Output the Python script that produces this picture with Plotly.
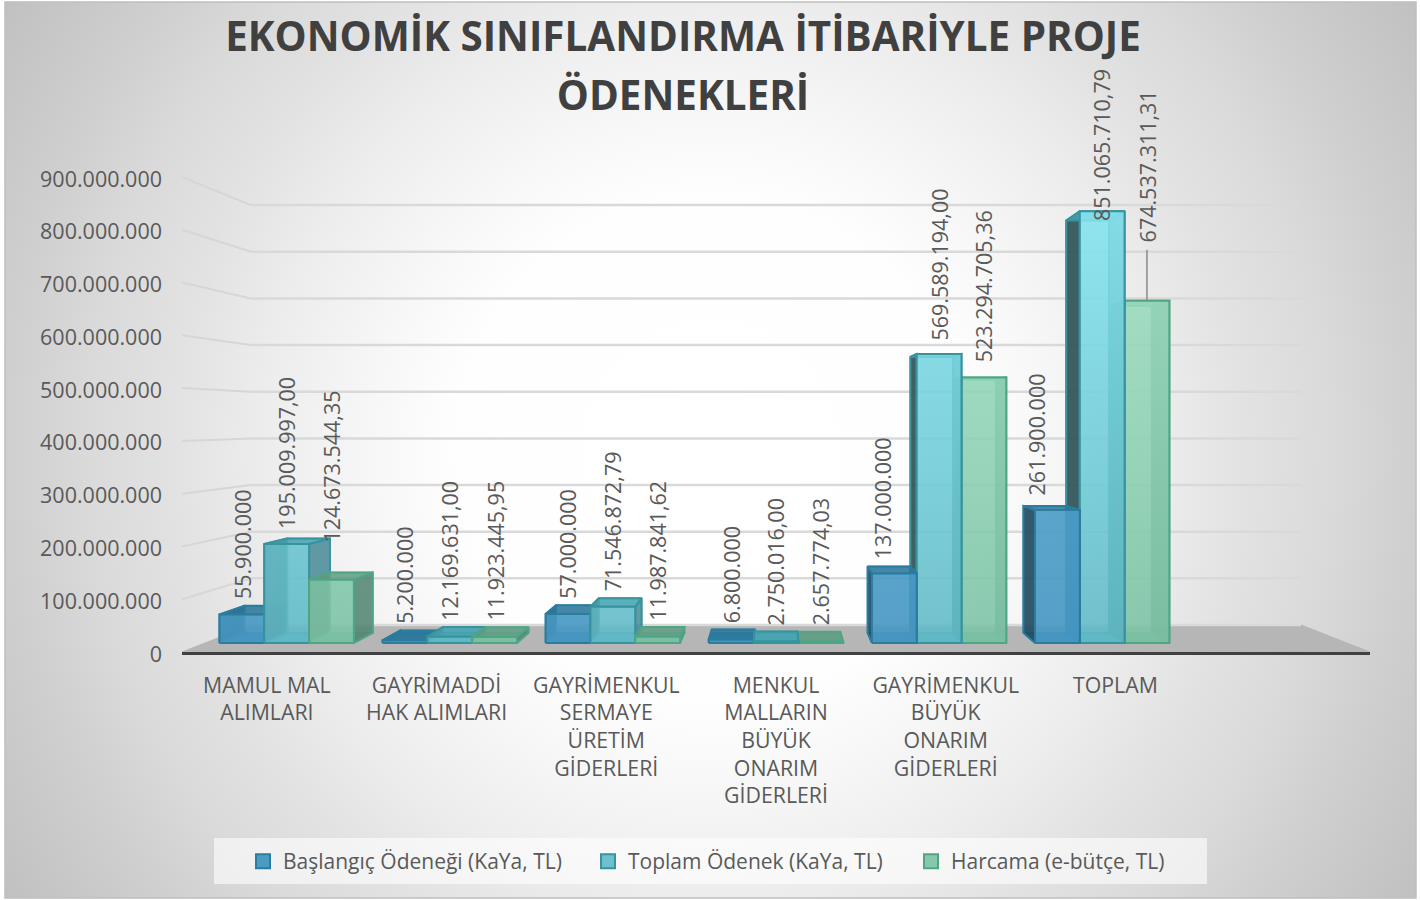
import base64
import plotly.graph_objs as go

categories = ["MAMUL MAL<br>ALIMLARI", "GAYRİMADDİ<br>HAK ALIMLARI", "GAYRİMENKUL<br>SERMAYE<br>ÜRETİM<br>GİDERLERİ",
              "MENKUL<br>MALLARIN<br>BÜYÜK<br>ONARIM<br>GİDERLERİ", "GAYRİMENKUL<br>BÜYÜK<br>ONARIM<br>GİDERLERİ", "TOPLAM"]
series_names = ["Başlangıç Ödeneği (KaYa, TL)", "Toplam Ödenek (KaYa, TL)", "Harcama (e-bütçe, TL)"]

baslangic = [55900000, 5200000, 57000000, 6800000, 137000000, 261900000]
toplam = [195009997.00, 12169631.00, 71546872.79, 2750016.00, 569589194.00, 851065710.79]
harcama = [124673544.35, 11923445.95, 11987841.62, 2657774.03, 523294705.36, 674537311.31]
values = [baslangic, toplam, harcama]

baslangic_labels = ["55.900.000", "5.200.000", "57.000.000", "6.800.000", "137.000.000", "261.900.000"]
toplam_labels = ["195.009.997,00", "12.169.631,00", "71.546.872,79", "2.750.016,00", "569.589.194,00", "851.065.710,79"]
harcama_labels = ["124.673.544,35", "11.923.445,95", "11.987.841,62", "2.657.774,03", "523.294.705,36", "674.537.311,31"]
labels = [baslangic_labels, toplam_labels, harcama_labels]

# Perspective of the Excel 3D chart: everything shrinks towards a vanishing point
N_SLOTS = 7
VP_X = 3.5
VP_V = 441e6
WALL = 0.884
BAR_FRONT = 0.961
BAR_BACK = 0.918
BAR_W = 0.2746
GROUP_PAD = 0.088
AXIS_MAX = 900e6


def proj(x, v, s):
	return VP_X + (x - VP_X) * s, VP_V + (v - VP_V) * s


def face(points):
	xs, ys = [], []
	for (x, v, s) in points:
		px, py = proj(x, v, s)
		xs.append(px)
		ys.append(py)
	xs.append(xs[0])
	ys.append(ys[0])
	return xs, ys


fill_colors = [
	dict(front=[[0, "rgba(70,152,196,0.88)"], [1, "rgba(90,172,214,0.88)"]],
		top="rgba(45,120,155,0.85)", right="rgba(40,125,170,0.80)", left="rgba(35,75,95,0.90)", line="#2b7c9f"),
	dict(front=[[0, "rgba(96,186,198,0.85)"], [1, "rgba(138,234,244,0.85)"]],
		top="rgba(70,165,178,0.85)", right="rgba(70,135,148,0.80)", left="rgba(50,85,90,0.92)", line="#37939f"),
	dict(front=[[0, "rgba(124,196,166,0.85)"], [1, "rgba(166,230,200,0.85)"]],
		top="rgba(100,160,135,0.85)", right="rgba(85,135,115,0.85)", left="rgba(70,105,90,0.90)", line="#50a585"),
]
legend_colors = ["#4a9cc4", "#6fc0ca", "#86c8aa"]

fig = go.Figure()


def add_poly(xs, ys, fillcolor, line_color, width=2, gradient=None):
	t = go.Scatter(x=xs, y=ys, mode="lines", fill="toself", fillcolor=fillcolor,
		line=dict(color=line_color, width=width), hoverinfo="skip", showlegend=False, cliponaxis=False)
	if gradient:
		t.fillgradient = dict(type="vertical", colorscale=gradient, start=0, stop=AXIS_MAX)
	fig.add_trace(t)


# Floor
fx, fy = face([(0, 0, 1), (N_SLOTS, 0, 1), (N_SLOTS, 0, WALL), (0, 0, WALL)])
add_poly(fx, fy, "#b6b6b6", "#b6b6b6", width=1)

# Gridlines on the side and the back wall
tick_values = [i * 100000000 for i in range(0, 10)]
for v in tick_values[1:] + tick_values[:1]:
	x0, y0 = proj(0, v, 1)
	x1, y1 = proj(0, v, WALL)
	x2, y2 = proj(N_SLOTS, v, WALL)
	if v > 0:
		fig.add_trace(go.Scatter(x=[x0, x1], y=[y0, y1], mode="lines", line=dict(color="#d6d6d6", width=2),
			hoverinfo="skip", showlegend=False, cliponaxis=False))
	fig.add_trace(go.Scatter(x=[x1, x2], y=[y1, y2], mode="lines", line=dict(color="#d9d9d9", width=2.5),
		hoverinfo="skip", showlegend=False, cliponaxis=False))

# Bars, furthest from the centre first so nearer ones cover them
bars = []
for j in range(3):
	for i in range(len(categories)):
		left = i + GROUP_PAD + j * BAR_W
		bars.append((abs(left + BAR_W / 2 - VP_X), left, values[j][i], j))
bars.sort(key=lambda b: -b[0])

for _, x0, v, j in bars:
	x1 = x0 + BAR_W
	c = fill_colors[j]
	fb, bk = BAR_FRONT, BAR_BACK
	add_poly(*face([(x0, 0, bk), (x1, 0, bk), (x1, v, bk), (x0, v, bk)]), c["top"].replace("0.85", "0.25"), c["line"], width=1.5)
	add_poly(*face([(x0, 0, fb), (x1, 0, fb), (x1, 0, bk), (x0, 0, bk)]), c["top"], c["line"], width=1.5)
	add_poly(*face([(x0, 0, fb), (x0, v, fb), (x0, v, bk), (x0, 0, bk)]), c["left"], c["line"])
	add_poly(*face([(x1, 0, fb), (x1, v, fb), (x1, v, bk), (x1, 0, bk)]), c["right"], c["line"])
	add_poly(*face([(x0, v, fb), (x1, v, fb), (x1, v, bk), (x0, v, bk)]), c["top"], c["line"])
	add_poly(*face([(x0, 0, fb), (x1, 0, fb), (x1, v, fb), (x0, v, fb)]), "rgba(0,0,0,0)", c["line"], gradient=c["front"])

# Leader line of the last label
lx, ly0 = proj(5 + GROUP_PAD + 2.5 * BAR_W, harcama[5], BAR_FRONT)
fig.add_trace(go.Scatter(x=[lx, lx], y=[ly0, 762e6], mode="lines", line=dict(color="#8a8a8a", width=1.5),
	hoverinfo="skip", showlegend=False, cliponaxis=False))

# Legend entries, one small legend each so the gaps can follow the reference
legend_left = [243, 588, 911]
legend_names = ["legend", "legend2", "legend3"]
for j in range(3):
	fig.add_trace(go.Scatter(x=[None], y=[None], mode="markers", name=series_names[j], legend=legend_names[j],
		marker=dict(symbol="square", size=14, color=legend_colors[j], line=dict(color=fill_colors[j]["line"], width=2))))

# Data labels, nudged (px) where Excel moved them by hand
label_nudge = {(0, 4): (-11, 0), (0, 5): (-21, 2), (1, 0): (0, 1), (1, 4): (0, 4), (2, 4): (0, 5), (1, 5): (0, -16), (2, 5): (0, 50), (2, 0): (0, 23)}
annotations = []
for j in range(3):
	for i in range(len(categories)):
		xm = i + GROUP_PAD + (j + 0.5) * BAR_W
		ax, _ = proj(xm, values[j][i], BAR_FRONT)
		_, ay = proj(xm, values[j][i], (BAR_FRONT + BAR_BACK) / 2)
		dx, dy = label_nudge.get((j, i), (0, 0))
		annotations.append(dict(x=ax, y=ay, xref="x", yref="y", text=labels[j][i], textangle=-90, showarrow=False,
			xanchor="center", yanchor="bottom", xshift=dx, yshift=9 + dy,
			font=dict(family="Open Sans", size=21.5, color="#595959")))

background = """<svg xmlns='http://www.w3.org/2000/svg' width='1411' height='896'><defs>
<radialGradient id='g' gradientUnits='userSpaceOnUse' cx='705' cy='448' r='840'><stop offset='0' stop-color='#ffffff'/>
<stop offset='0.3' stop-color='#fefefe'/><stop offset='0.39' stop-color='#f8f8f8'/><stop offset='0.54' stop-color='#ececec'/>
<stop offset='0.64' stop-color='#e2e2e2'/><stop offset='0.74' stop-color='#dadada'/><stop offset='0.83' stop-color='#d0d0d0'/>
<stop offset='1' stop-color='#c0c0c0'/></radialGradient></defs>
<rect width='1411' height='896' fill='url(#g)'/></svg>"""
bg_source = "data:image/svg+xml;base64," + base64.b64encode(background.encode()).decode()

W, H = 1420, 900
legend_font = dict(family="Open Sans", size=21, color="#595959")


def legend_at(px):
	return dict(orientation="h", x=px / W, y=1 - 841 / H, xanchor="left", yanchor="top",
		bgcolor="rgba(0,0,0,0)", font=legend_font)


fig.update_layout(
	width=W, height=H, autosize=False,
	margin=dict(l=0, r=0, t=0, b=0, autoexpand=False),
	paper_bgcolor="white", plot_bgcolor="rgba(0,0,0,0)",
	separators=",.",
	font=dict(family="Open Sans", color="#595959"),
	# the large outer size only sets the line spacing of the two title lines
	title=dict(text="<span style='font-size:40.4px'><b>EKONOMİK SINIFLANDIRMA İTİBARİYLE PROJE<br>ÖDENEKLERİ</b></span>",
		x=683 / W, xanchor="center", y=1 - 51 / H, yanchor="top",
		font=dict(family="Open Sans", size=45.4, color="#404040")),
	xaxis=dict(domain=[182 / W, 1370 / W], range=[0, N_SLOTS], tickmode="array",
		tickvals=[i + 0.5 for i in range(len(categories))], ticktext=categories,
		showgrid=False, zeroline=False, showline=True, linecolor="#404040", linewidth=3,
		ticks="", ticklabelstandoff=12, tickangle=0, tickfont=dict(family="Open Sans", size=21.3, color="#595959")),
	yaxis=dict(domain=[1 - 652 / H, 1 - 177 / H], range=[0, AXIS_MAX], tickmode="array",
		tickvals=tick_values, tickformat=",d", showgrid=False, zeroline=False, showline=False,
		ticks="", ticklabelstandoff=19, ticklabelshift=2, tickfont=dict(family="Open Sans", size=21.5, color="#595959")),
	legend=legend_at(legend_left[0]),
	legend2=legend_at(legend_left[1]),
	legend3=legend_at(legend_left[2]),
	images=[dict(source=bg_source, xref="paper", yref="paper", x=5 / W, y=1 - 2 / H, sizex=1411 / W, sizey=896 / H,
		xanchor="left", yanchor="top", sizing="stretch", layer="below")],
	shapes=[
		dict(type="rect", xref="paper", yref="paper", x0=5 / W, x1=1416 / W, y0=1 - 898 / H, y1=1 - 2 / H,
			line=dict(color="#bfbfbf", width=1.5), fillcolor="rgba(0,0,0,0)", layer="below"),
		dict(type="rect", xref="paper", yref="paper", x0=214 / W, x1=1207 / W, y0=1 - 884 / H, y1=1 - 838 / H,
			line=dict(width=0), fillcolor="rgba(255,255,255,0.6)", layer="below"),
	],
	annotations=annotations,
)

fig.write_html("out.html", config={"displayModeBar": False}, post_script="document.body.style.margin='0';")
